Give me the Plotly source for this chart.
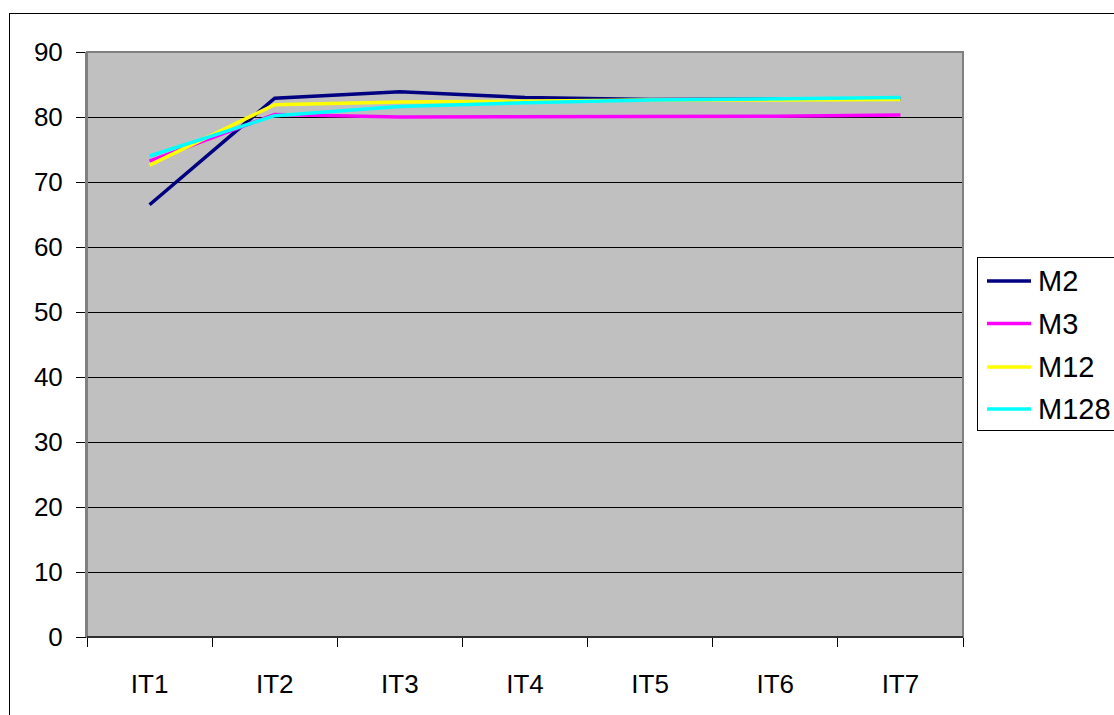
import plotly.graph_objects as go

categories = ["IT1", "IT2", "IT3", "IT4", "IT5", "IT6", "IT7"]
m2 = [66.5, 82.9, 83.9, 83.0, 82.7, 82.7, 82.8]
m3 = [73.2, 80.4, 80.0, 80.0, 80.0, 80.1, 80.3]
m12 = [72.6, 81.9, 82.3, 82.5, 82.6, 82.6, 82.7]
m128 = [74.0, 80.2, 81.6, 82.2, 82.6, 82.8, 83.0]

series = [("M2", m2, "#000080"), ("M3", m3, "#FF00FF"),
          ("M12", m12, "#FFFF00"), ("M128", m128, "#00FFFF")]

W, H = 1114, 715
L, R, T, B = 87, 151, 52, 78
pw, ph = W - L - R, H - T - B


def px(x):
    return (x - L) / pw


def py(y):
    return (H - B - y) / ph


fig = go.Figure()
for name, vals, col in series:
    fig.add_trace(go.Scatter(x=categories, y=vals, mode="lines", name=name,
                             showlegend=False,
                             line=dict(color=col, width=3.5)))

font = "Liberation Sans, Arial, sans-serif"


def hline(x0, x1, y, color="black", width=1):
    return dict(type="line", xref="paper", yref="paper", x0=px(x0), x1=px(x1),
                y0=py(y), y1=py(y), line=dict(color=color, width=width), layer="above")


def vline(x, y0, y1, color="black", width=1):
    return dict(type="line", xref="paper", yref="paper", x0=px(x), x1=px(x),
                y0=py(y0), y1=py(y1), line=dict(color=color, width=width), layer="above")


shapes = [
    dict(type="rect", xref="paper", yref="paper", x0=0, x1=1, y0=0, y1=1,
         line=dict(color="#808080", width=2), layer="above"),
    dict(type="line", xref="paper", yref="paper", x0=0, x1=1, y0=0, y1=0,
         line=dict(color="#303030", width=2), layer="above"),
    # outer chart border (left and top edges visible)
    hline(9, 1114, 13.5),
    vline(9.5, 13, 715),
    # legend box (right edge is off the picture)
    dict(type="rect", xref="paper", yref="paper", x0=px(977), x1=px(1114),
         y0=py(431), y1=py(257), fillcolor="white", line=dict(width=0),
         layer="above"),
    hline(977, 1114, 257.5),
    hline(977, 1114, 430.5),
    vline(977.5, 257, 431),
]
annotations = []
item_y = [281, 323.5, 367, 409]
for (name, vals, col), yy in zip(series, item_y):
    shapes.append(hline(987, 1031, yy, color=col, width=3.5))
    annotations.append(dict(xref="paper", yref="paper", x=px(1036), y=py(yy),
                            text=name, showarrow=False, xanchor="left",
                            yanchor="middle", font=dict(size=29, family=font)))

fig.update_layout(
    width=W, height=H,
    margin=dict(l=L, r=R, t=T, b=B),
    paper_bgcolor="white", plot_bgcolor="#C0C0C0",
    font=dict(family=font, size=26, color="black"),
    showlegend=False,
    xaxis=dict(type="category", range=[-0.5, 6.5], tickson="boundaries",
               ticks="outside", ticklen=9,
               tickcolor="black", showgrid=False, showline=True, linecolor="black",
               linewidth=1, ticklabelstandoff=24, tickfont=dict(size=26)),
    yaxis=dict(range=[0, 90], dtick=10, ticks="outside", ticklen=9, tickcolor="black",
               showgrid=True, gridcolor="black", gridwidth=1, zeroline=False,
               showline=True, linecolor="#808080", linewidth=2,
               ticklabelstandoff=8, tickfont=dict(size=26)),
    shapes=shapes,
    annotations=annotations,
)

fig.write_html("out.html", config={"displayModeBar": False},
               post_script="document.body.style.margin='0';document.body.style.overflow='hidden';")
